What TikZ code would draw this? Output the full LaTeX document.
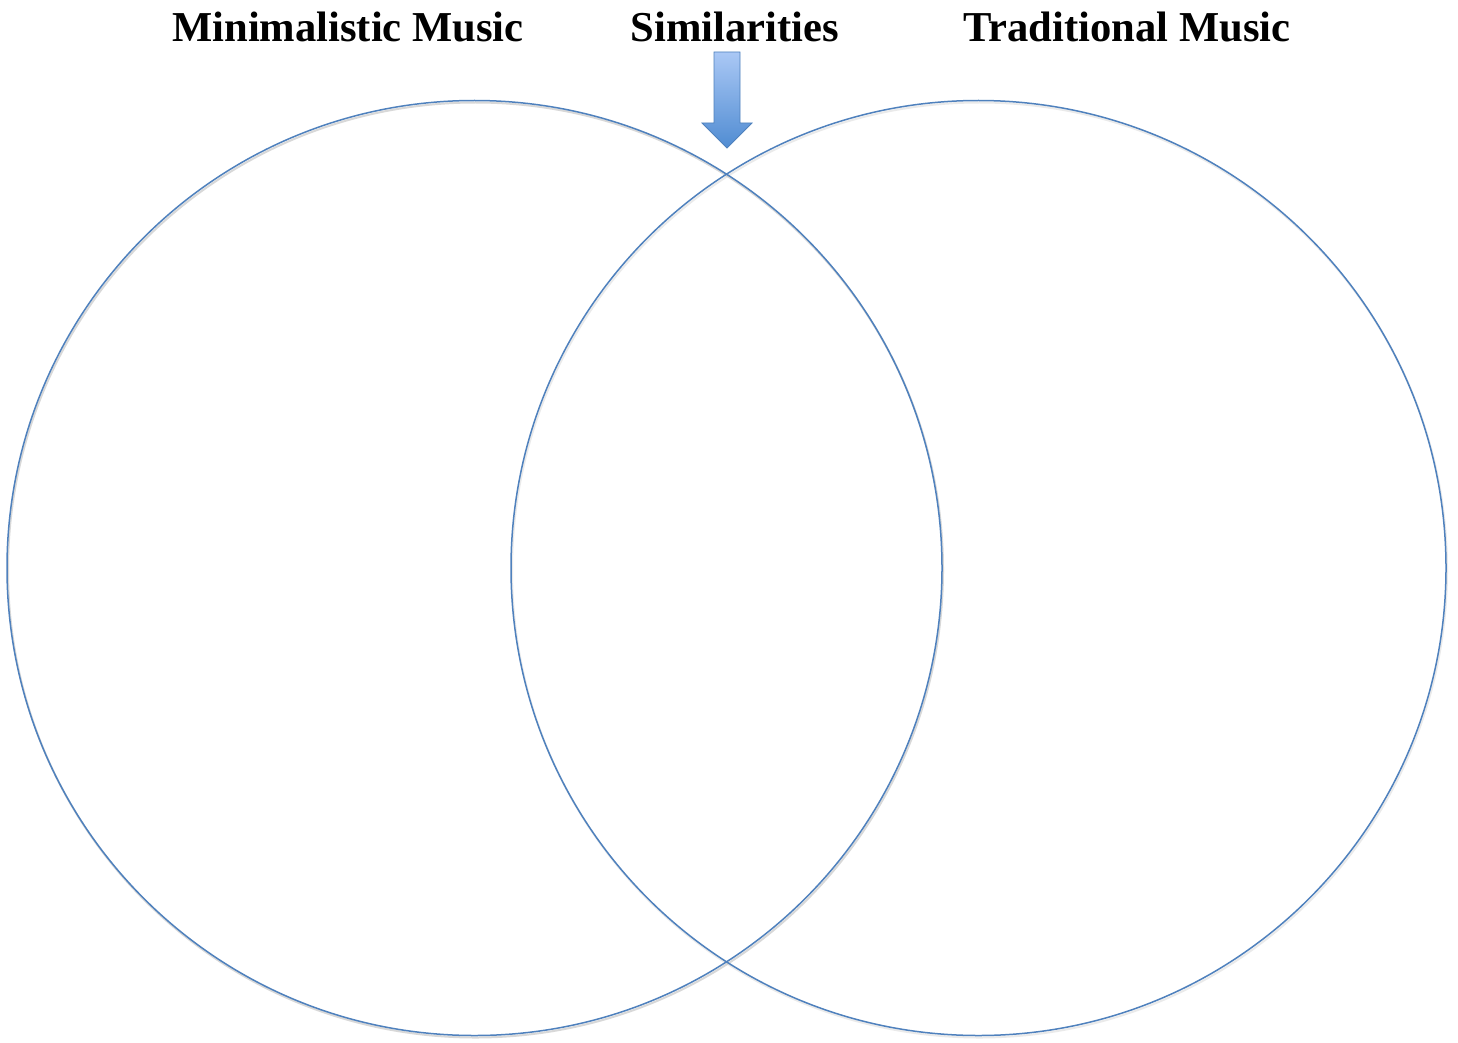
\documentclass[tikz,border=0pt]{standalone}
\usepackage{fontspec}
\setmainfont{Liberation Serif}
\definecolor{venn}{RGB}{79,129,189}
\definecolor{arrtop}{RGB}{170,200,245}
\definecolor{arrbot}{RGB}{80,140,210}
\begin{document}
\begin{tikzpicture}[x=1pt,y=-1pt,
  ring/.style={draw=venn,line width=1.5pt},
  title/.style={font=\fontsize{42.6}{48}\selectfont\bfseries,anchor=base,inner sep=0pt}]
\useasboundingbox (0,0) rectangle (1458,1043);
\fill[white] (0,0) rectangle (1458,1043);
% shadows
\draw[black!30,line width=2pt,opacity=0.5] (475.5,570) circle (467.5);
\draw[black!20,line width=2pt,opacity=0.4] (979.5,570) circle (467.5);
\draw[ring] (474.5,568) circle (467.5);
\draw[ring] (978.5,568) circle (467.5);
\node[title] (m) at (348,42) {Minimalistic Music};
\node[title] (s) at (735,42) {Similarities};
\node[title] (t) at (1127,42) {Traditional Music};
\path[draw=venn,line width=0.8pt,top color=arrtop,bottom color=arrbot]
  (714,52) -- (740,52) -- (740,123) -- (752,123) -- (727,148) -- (702,123) -- (714,123) -- cycle;
\end{tikzpicture}
\end{document}
